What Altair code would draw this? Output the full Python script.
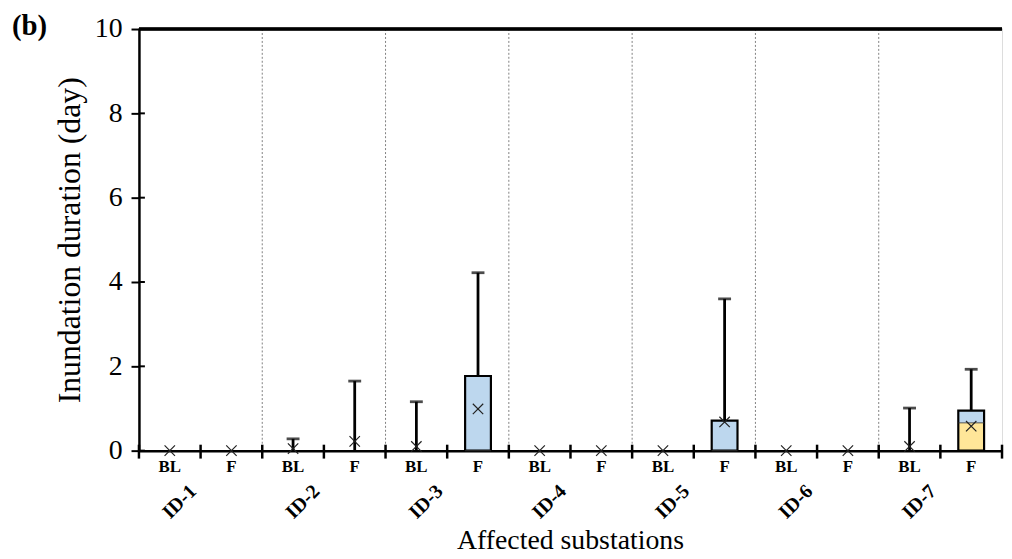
import altair as alt
import pandas as pd

groups = ["ID-1", "ID-2", "ID-3", "ID-4", "ID-5", "ID-6", "ID-7"]
conds = ["BL", "F"]
keys = [f"{g} {c}" for g in groups for c in conds]

q1 = [0, 0, 0, 0, 0, 0, 0, 0, 0, 0, 0, 0, 0, 0]
median = [0, 0, 0, 0, 0, 0, 0, 0, 0, 0, 0, 0, 0, 0.66]
q3 = [0, 0, 0, 0, 0, 1.77, 0, 0, 0, 0.71, 0, 0, 0, 0.95]
whisker_top = [0, 0, 0.28, 1.65, 1.16, 4.22, 0, 0, 0, 3.6, 0, 0, 1.01, 1.93]
mean = [0, 0, 0.05, 0.22, 0.1, 0.99, 0, 0, 0, 0.68, 0, 0, 0.1, 0.58]
y_ticks = [0, 2, 4, 6, 8, 10]

W, H = 870, 425
FONT = "Liberation Serif"

df = pd.DataFrame({
    "key": keys,
    "group": [g for g in groups for _ in conds],
    "cond": [c for _ in groups for c in conds],
    "q1": q1, "median": median, "q3": q3, "wt": whisker_top, "mean": mean,
})
df_bl = df[df["cond"] == "BL"]
df_sep = df_bl[df_bl["group"] != groups[0]]
df_last = df.iloc[[-1]]
df_yt = pd.DataFrame({"v": y_ticks})

xscale = alt.Scale(domain=keys, paddingInner=0, paddingOuter=0)
yscale = alt.Scale(domain=[0, 10], nice=False)

X = alt.X("key:N", scale=xscale, sort=keys, title=None,
          axis=alt.Axis(labels=False, ticks=False,
                        domainColor="black", domainWidth=2.5))
Y = alt.Y("q1:Q", scale=yscale, title="Inundation duration (day)",
          axis=alt.Axis(values=y_ticks, labelFont=FONT, labelFontSize=28,
                        labelColor="black", labelPadding=9, tickSize=8,
                        tickWidth=2, tickColor="black", domainColor="black",
                        domainWidth=2.5, grid=False, titleFont=FONT,
                        titleFontSize=32, titleFontWeight="normal",
                        titleColor="black", titlePadding=8))

base = alt.Chart(df)

sep = alt.Chart(df_sep).mark_rule(color="#808080", strokeWidth=1, strokeDash=[2, 2]).encode(
    x=alt.X("key:N", scale=xscale, bandPosition=0),
    y=alt.value(0), y2=alt.value(H))

boxed = base.transform_filter("datum.q3 > datum.q1")
low = boxed.mark_bar(size=26, color="#FFE699").encode(x=X, y=Y, y2="median:Q")
up = boxed.mark_bar(size=26, color="#BDD7EE").encode(x=X, y=alt.Y("median:Q", scale=yscale), y2="q3:Q")
outline = boxed.mark_bar(size=26, fillOpacity=0, stroke="black", strokeWidth=2.2).encode(
    x=X, y=alt.Y("q1:Q", scale=yscale), y2="q3:Q")
med = boxed.mark_tick(size=26, thickness=1.2, color="#333333").encode(
    x=alt.X("key:N", scale=xscale), y=alt.Y("median:Q", scale=yscale))

wh = base.transform_filter("datum.wt > datum.q3")
whisk = wh.mark_rule(color="black", strokeWidth=2.8).encode(
    x=alt.X("key:N", scale=xscale), y=alt.Y("q3:Q", scale=yscale), y2="wt:Q")
cap = wh.mark_tick(size=13, thickness=2.8, color="black").encode(
    x=alt.X("key:N", scale=xscale), y=alt.Y("wt:Q", scale=yscale))

xshape = "M-1,-1L1,1M-1,1L1,-1"
means = base.mark_point(shape=xshape, size=110, filled=False, color="#222222", strokeWidth=1.2,
                        opacity=1).encode(
    x=alt.X("key:N", scale=xscale), y=alt.Y("mean:Q", scale=yscale))

xt = base.mark_rule(color="black", strokeWidth=2.5).encode(
    x=alt.X("key:N", scale=xscale, bandPosition=0), y=alt.value(H - 6), y2=alt.value(H + 8))
xt_last = alt.Chart(df_last).mark_rule(color="black", strokeWidth=2.5).encode(
    x=alt.X("key:N", scale=xscale, bandPosition=1), y=alt.value(H - 6), y2=alt.value(H + 8))

yt_in = alt.Chart(df_yt).mark_rule(color="black", strokeWidth=2).encode(
    y=alt.Y("v:Q", scale=yscale), x=alt.value(0), x2=alt.value(6))

top = alt.Chart(df_yt).mark_rule(color="black", strokeWidth=2.5).encode(
    x=alt.value(0), x2=alt.value(W), y=alt.value(0))

condlab = base.mark_text(align="center", baseline="middle", font=FONT, fontSize=17,
                         fontWeight="bold", color="black").encode(
    x=alt.X("key:N", scale=xscale), y=alt.value(H + 17), text="cond:N")

idlab = alt.Chart(df_bl).mark_text(angle=315, align="right", baseline="middle",
                                   font=FONT, fontSize=20, fontWeight="bold", color="black").encode(
    x=alt.X("key:N", scale=xscale, bandPosition=0.88), y=alt.value(H + 38), text="group:N")

xtitle = alt.Chart(df_yt.iloc[[0]]).mark_text(font=FONT, fontSize=28, color="black",
                                              align="center", baseline="alphabetic").encode(
    x=alt.value(W / 2), y=alt.value(H + 99), text=alt.value("Affected substations"))

blabel = alt.Chart(df_yt.iloc[[0]]).mark_text(font=FONT, fontSize=29, fontWeight="bold", color="black",
                                              align="left", baseline="alphabetic").encode(
    x=alt.value(-128), y=alt.value(6), text=alt.value("(b)"))

chart = alt.layer(
    sep, low, up, outline, med, whisk, cap, means, xt, xt_last, yt_in, top, condlab, idlab,
    xtitle, blabel
).properties(
    width=W, height=H,
    autosize=alt.AutoSizeParams(type="none"),
    padding={"left": 132, "top": 19, "right": 2, "bottom": 105},
).configure_view(stroke=None).configure(background="white")

chart.save("out.html", embed_options={"renderer": "svg", "actions": False})
